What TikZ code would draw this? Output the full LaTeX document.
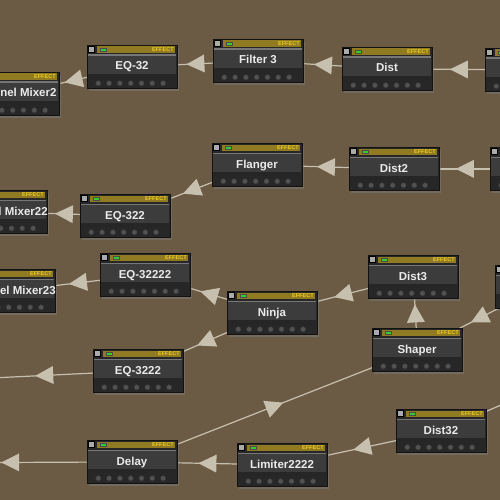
\documentclass[tikz,border=0pt]{standalone}
\usepackage{fontspec}
\setmainfont{Liberation Sans}
\usetikzlibrary{shadows,decorations.markings}

\definecolor{desk}{HTML}{6B5A44}
\definecolor{wirecol}{HTML}{C8C0AE}
\definecolor{boxdark}{HTML}{272727}
\definecolor{boxline}{HTML}{121212}
\definecolor{namegrey}{HTML}{3C3C3C}
\definecolor{goldbar}{HTML}{907A22}
\definecolor{effectyellow}{HTML}{ECCC1C}
\definecolor{ledgreen}{HTML}{30D030}
\definecolor{knob}{HTML}{525252}
\definecolor{btngrey}{HTML}{ABABAB}

\pgfdeclarelayer{front}
\pgfsetlayers{main,front}

\tikzset{
  fxbox/.style={rectangle, draw=boxline, fill=boxdark, line width=0.8pt,
    minimum width=90pt, minimum height=43pt, inner sep=0pt,
    drop shadow={shadow xshift=2pt, shadow yshift=-3pt, opacity=0.45}},
  fxlabel/.style={text=white!92!black, font=\bfseries\fontsize{11.5}{12}\selectfont, inner sep=0pt},
  fxtag/.style={text=effectyellow, font=\bfseries\fontsize{5.6}{6}\selectfont, inner sep=0pt},
  wire/.style={draw=wirecol, line width=1.2pt, postaction={decorate},
    decoration={markings, mark=at position 0.5 with {\fill[wirecol] (9,0) -- (-9,9) -- (-9,-9) -- cycle;}}}
}

% machine box: name, left, top, label
\newcommand{\fxmachine}[4]{%
  \node[fxbox, anchor=north west] (#1) at (#2,#3) {};
  \filldraw[fill=btngrey, draw=black] ([shift={(1.5,1.5)}]#1.north west) rectangle ++(6,6);
  \fill[goldbar] ([shift={(10,1.5)}]#1.north west) rectangle ([shift={(88,8)}]#1.north west);
  \filldraw[fill=ledgreen, draw=black!70] ([shift={(13,3)}]#1.north west) rectangle ++(6,3.5);
  \node[fxtag, anchor=east] at ([shift={(87,4.8)}]#1.north west) {EFFECT};
  \fill[namegrey] ([shift={(1,9.5)}]#1.north west) rectangle ([shift={(89,29)}]#1.north west);
  \fill[white!30!namegrey] ([shift={(1,9.5)}]#1.north west) rectangle ([shift={(89,11)}]#1.north west);
  \fill[black!85] ([shift={(1,29)}]#1.north west) rectangle ([shift={(89,33)}]#1.north west);
  \foreach \k in {0,...,6}
    \filldraw[fill=knob, draw=black!80] ([shift={(11.3+10.8*\k,38.3)}]#1.north west) circle (2.7pt);
  \node[fxlabel, anchor=base] at ([shift={(45,25)}]#1.north west) {#4};
}

\begin{document}
\begin{tikzpicture}[x=1pt, y=-1pt]
\useasboundingbox (0,0) rectangle (500,500);
\clip (0,0) rectangle (500,500);
\fill[desk] (0,0) rectangle (500,500);

\begin{pgfonlayer}{front}
\clip (0,0) rectangle (500,500);
% Top chain
\fxmachine{mixtwo}{-31}{72}{Channel Mixer2}
\fxmachine{eqa}{87}{45}{EQ-32}
\fxmachine{filter}{213}{39}{Filter 3}
\fxmachine{dist}{342}{47}{Dist}
\fxmachine{topin}{485}{48}{}

% Second chain
\fxmachine{mixthree}{-43}{190}{Channel Mixer22}
\fxmachine{eqb}{80}{194}{EQ-322}
\fxmachine{flanger}{212}{143}{Flanger}
\fxmachine{distb}{349}{147}{Dist2}
\fxmachine{midin}{490}{147}{}

% Third chain
\fxmachine{mixfour}{-35}{269}{Channel Mixer23}
\fxmachine{eqc}{100}{253}{EQ-32222}
\fxmachine{ninja}{227}{291}{Ninja}
\fxmachine{distc}{368}{255}{Dist3}
\fxmachine{lowin}{495}{265}{}
\fxmachine{shaper}{372}{328}{Shaper}
\fxmachine{eqd}{93}{349}{EQ-3222}

% Bottom chain
\fxmachine{delay}{87}{440}{Delay}
\fxmachine{limiter}{237}{443}{Limiter2222}
\fxmachine{distd}{396}{409}{Dist32}
\end{pgfonlayer}

% Off-screen ends
\coordinate (westa) at (-50,380);
\coordinate (westb) at (-112,463);
\coordinate (eastd) at (600,362);

% Wires
\draw[wire] (topin.center) -- (dist.center);
\draw[wire] (dist.center) -- (filter.center);
\draw[wire] (filter.center) -- (eqa.center);
\draw[wire] (eqa.center) -- (mixtwo.center);
\draw[wire] (midin.center) -- (distb.center);
\draw[wire] (distb.center) -- (flanger.center);
\draw[wire] (flanger.center) -- (eqb.center);
\draw[wire] (eqb.center) -- (mixthree.center);
\draw[wire] (lowin.center) -- (shaper.center);
\draw[wire] (shaper.center) -- (distc.center);
\draw[wire] (distc.center) -- (ninja.center);
\draw[wire] (ninja.center) -- (eqc.center);
\draw[wire] (ninja.center) -- (eqd.center);
\draw[wire] (eqc.center) -- (mixfour.center);
\draw[wire] (eqd.center) -- (westa);
\draw[wire] (delay.center) -- (shaper.center);
\draw[wire] (eastd) -- (distd.center);
\draw[wire] (distd.center) -- (limiter.center);
\draw[wire] (limiter.center) -- (delay.center);
\draw[wire] (delay.center) -- (westb);
\end{tikzpicture}
\end{document}
